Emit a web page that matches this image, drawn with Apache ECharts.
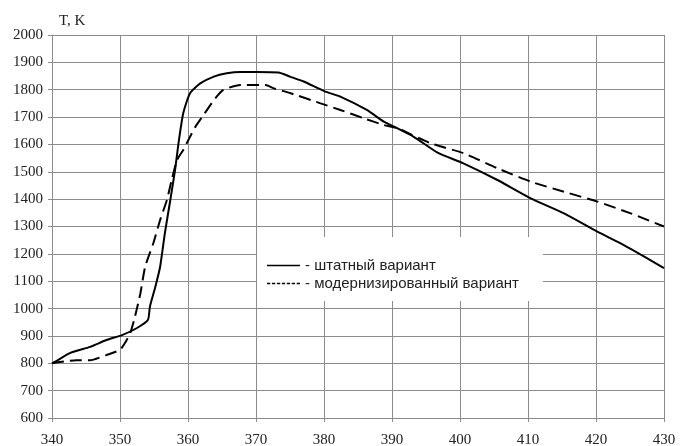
<!DOCTYPE html>
<html>
<head>
<meta charset="utf-8">
<script src="https://cdn.jsdelivr.net/npm/echarts@6/dist/echarts.min.js"></script>
<style>html,body{margin:0;padding:0;background:#fff}#c{width:680px;height:446px}</style>
</head>
<body>
<div id="c"></div>
<script>
var seriesNames = ['штатный вариант', 'модернизированный вариант'];
var xTicks = [340, 350, 360, 370, 380, 390, 400, 410, 420, 430];
var yTicks = [600, 700, 800, 900, 1000, 1100, 1200, 1300, 1400, 1500, 1600, 1700, 1800, 1900, 2000];

var baseX = [340, 340.4, 342.7, 345.6, 348, 350.3, 352.5, 354.1, 354.4, 355.2, 355.9, 356.6, 357.4, 358.1, 358.6, 359.3, 360.3, 361.8, 363.8, 365.7, 367.7, 370, 373.3, 375, 377, 380.2, 382.4, 386.3, 388.8, 390.3, 393.2, 396.7, 400.5, 405.5, 410.4, 415.3, 420.2, 424.1, 427.1, 430];
var baseT = [800, 805, 838, 860, 885, 903, 929, 958, 1007, 1080, 1153, 1276, 1397, 1507, 1604, 1714, 1787, 1823, 1848, 1860, 1865, 1865, 1863, 1848, 1830, 1793, 1775, 1726, 1683, 1665, 1628, 1570, 1531, 1470, 1403, 1348, 1281, 1232, 1190, 1148];

var modX = [340, 343.6, 345.6, 348, 350, 350.7, 351.5, 352.2, 353, 353.7, 354.9, 355.9, 356.9, 357.6, 358.4, 359.3, 360.3, 361.1, 362.3, 363.8, 365.2, 367.7, 371.4, 372.6, 375.1, 379.5, 382.4, 385.8, 388.8, 390.8, 395.7, 400.5, 405.5, 410.4, 415.3, 420.2, 425.1, 430];
var modT = [800, 811, 811, 830, 849, 873, 910, 970, 1056, 1153, 1239, 1324, 1397, 1470, 1543, 1580, 1628, 1665, 1708, 1762, 1799, 1817, 1817, 1805, 1787, 1750, 1726, 1696, 1671, 1659, 1604, 1568, 1513, 1464, 1427, 1391, 1348, 1300];

function pairs(xs, ys) { return xs.map(function (x, i) { return [x, ys[i]]; }); }

var solidIcon = 'path://M0,0h40v2h-40z';
var dottedIcon = 'path://M0,0h4v2h-4zM6,0h4v2h-4zM12,0h4v2h-4zM18,0h4v2h-4zM24,0h4v2h-4zM30,0h4v2h-4zM36,0h4v2h-4z';

var chart = echarts.init(document.getElementById('c'), null, { renderer: 'canvas' });
var gridCol = '#8c8c8c';
chart.setOption({
  animation: false,
  backgroundColor: '#fff',
  title: {
    text: 'T, K', left: 54, top: 9,
    textStyle: { fontFamily: 'Liberation Serif', fontSize: 15, fontWeight: 'normal', color: '#222' }
  },
  grid: { left: 52, right: 16, top: 35, bottom: 28, containLabel: false, outerBoundsMode: 'none' },
  legend: {
    orient: 'vertical', left: 257, top: 237,
    backgroundColor: '#fff', padding: [21, 24, 10, 10],
    itemWidth: 33, itemHeight: 2, itemGap: 3,
    formatter: '- {name}',
    textStyle: { fontFamily: 'Liberation Sans', fontSize: 15, color: '#222' },
    data: [
      { name: seriesNames[0], icon: solidIcon, itemStyle: { color: '#000' } },
      { name: seriesNames[1], icon: dottedIcon, itemStyle: { color: '#000' } }
    ]
  },
  xAxis: {
    type: 'value', min: xTicks[0], max: xTicks[xTicks.length - 1], interval: 10,
    axisLine: { show: true, lineStyle: { color: gridCol } },
    axisTick: { show: true, length: 4, lineStyle: { color: gridCol } },
    splitLine: { show: true, lineStyle: { color: gridCol, width: 1 } },
    axisLabel: { margin: 15, fontFamily: 'Liberation Serif', fontSize: 15, color: '#222' }
  },
  yAxis: {
    type: 'value', min: yTicks[0], max: yTicks[yTicks.length - 1], interval: 100,
    axisLine: { show: true, lineStyle: { color: gridCol } },
    axisTick: { show: true, length: 4, lineStyle: { color: gridCol } },
    splitLine: { show: true, lineStyle: { color: gridCol, width: 1 } },
    axisLabel: { margin: 9, fontFamily: 'Liberation Serif', fontSize: 15, color: '#222',
      formatter: function (v) { return String(v); } }
  },
  series: [
    {
      name: seriesNames[0], type: 'line', symbol: 'none', smooth: 0.2,
      data: pairs(baseX, baseT),
      lineStyle: { color: '#000', width: 2 }, itemStyle: { color: '#000' }
    },
    {
      name: seriesNames[1], type: 'line', symbol: 'none', smooth: 0.2,
      data: pairs(modX, modT),
      lineStyle: { color: '#000', width: 2, type: [12, 6] }, itemStyle: { color: '#000' }
    }
  ]
});
</script>
</body>
</html>
